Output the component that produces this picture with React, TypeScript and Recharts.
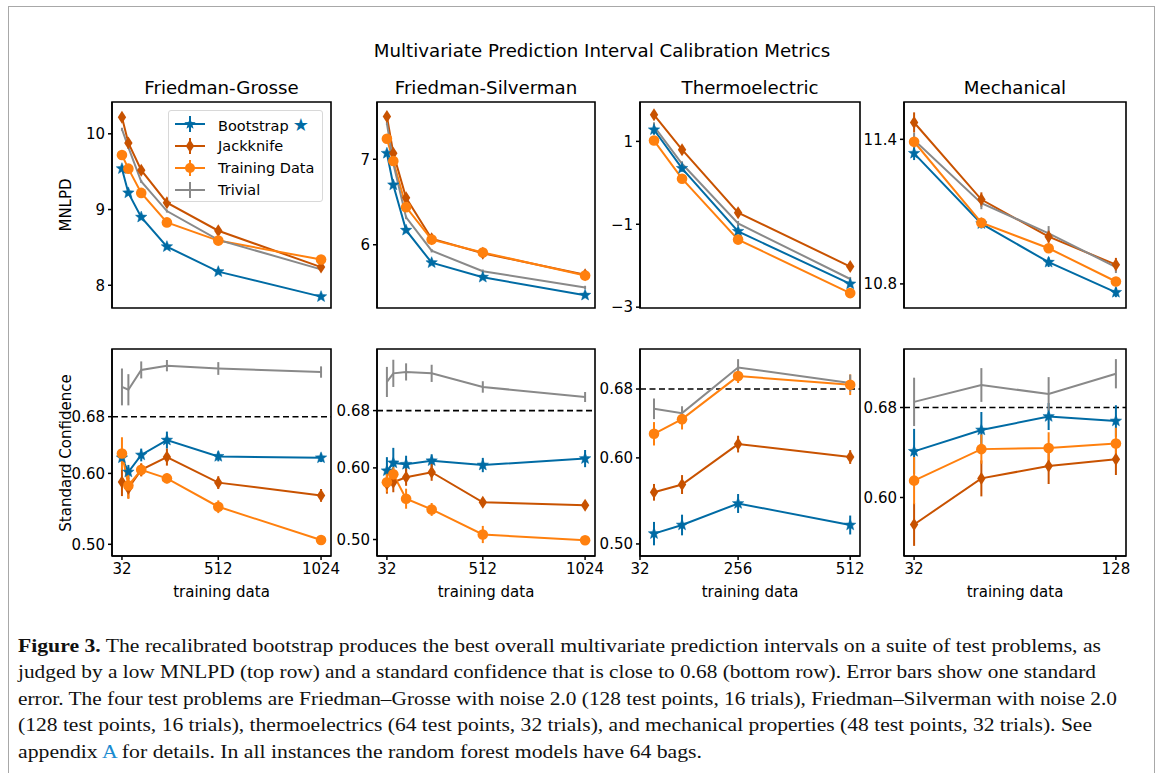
import React from "react";
import {
  LineChart,
  Line,
  XAxis,
  YAxis,
  ErrorBar,
  ReferenceLine,
  ReferenceArea,
} from "recharts";

// colour-blind friendly palette used by the figure
const BLUE = "#006BA4";
const DARK_ORANGE = "#C85200";
const ORANGE = "#FF800E";
const GRAY = "#898989";

const FONT = "DejaVu Sans, sans-serif";

// training data sizes (x axis)
const FRIEDMAN_X = [32, 64, 128, 256, 512, 1024];
const THERMO_X = [64, 128, 256, 512];
const MECH_X = [32, 64, 96, 128];

// each entry is [mean, standard error]
// --- MNLPD (top row) ---
const FG_MNLPD_BOOT = [[9.54, 0.02], [9.22, 0.02], [8.9, 0.02], [8.51, 0.02], [8.18, 0.02], [7.85, 0.02]];
const FG_MNLPD_JACK = [[10.22, 0.03], [9.88, 0.02], [9.52, 0.02], [9.09, 0.02], [8.72, 0.02], [8.24, 0.02]];
const FG_MNLPD_TRAIN = [[9.72, 0.02], [9.54, 0.02], [9.22, 0.02], [8.83, 0.02], [8.59, 0.02], [8.34, 0.02]];
const FG_MNLPD_TRIV = [[10.06, 0.02], [9.82, 0.02], [9.37, 0.02], [8.98, 0.02], [8.6, 0.02], [8.21, 0.02]];

const FS_MNLPD_BOOT = [[7.07, 0.02], [6.7, 0.02], [6.17, 0.02], [5.79, 0.02], [5.62, 0.02], [5.41, 0.02]];
const FS_MNLPD_JACK = [[7.5, 0.03], [7.07, 0.02], [6.55, 0.02], [6.07, 0.02], [5.9, 0.02], [5.65, 0.02]];
const FS_MNLPD_TRAIN = [[7.24, 0.02], [6.98, 0.02], [6.44, 0.02], [6.06, 0.02], [5.91, 0.02], [5.64, 0.02]];
const FS_MNLPD_TRIV = [[7.42, 0.02], [6.95, 0.02], [6.32, 0.02], [5.93, 0.02], [5.69, 0.02], [5.5, 0.02]];

const TE_MNLPD_BOOT = [[1.28, 0.12], [0.35, 0.08], [-1.17, 0.06], [-2.44, 0.06]];
const TE_MNLPD_JACK = [[1.64, 0.1], [0.8, 0.08], [-0.72, 0.07], [-2.02, 0.08]];
const TE_MNLPD_TRAIN = [[1.02, 0.06], [0.1, 0.05], [-1.37, 0.05], [-2.66, 0.05]];
const TE_MNLPD_TRIV = [[1.36, 0.1], [0.46, 0.06], [-0.98, 0.06], [-2.32, 0.05]];

const ME_MNLPD_BOOT = [[11.342, 0.028], [11.05, 0.02], [10.89, 0.02], [10.765, 0.02]];
const ME_MNLPD_JACK = [[11.47, 0.042], [11.15, 0.03], [10.996, 0.025], [10.88, 0.028]];
const ME_MNLPD_TRAIN = [[11.39, 0.025], [11.054, 0.02], [10.948, 0.02], [10.81, 0.018]];
const ME_MNLPD_TRIV = [[11.397, 0.03], [11.135, 0.025], [11.01, 0.03], [10.87, 0.025]];

// --- standard confidence (bottom row) ---
const FG_SC_BOOT = [[0.622, 0.009], [0.602, 0.01], [0.626, 0.009], [0.647, 0.012], [0.624, 0.007], [0.622, 0.006]];
const FG_SC_JACK = [[0.588, 0.02], [0.579, 0.014], [0.605, 0.009], [0.623, 0.012], [0.587, 0.009], [0.569, 0.009]];
const FG_SC_TRAIN = [[0.628, 0.023], [0.583, 0.019], [0.605, 0.009], [0.593, 0.007], [0.553, 0.009], [0.506, 0.006]];
const FG_SC_TRIV = [[0.722, 0.026], [0.718, 0.022], [0.746, 0.012], [0.752, 0.008], [0.748, 0.009], [0.743, 0.008]];

const FS_SC_BOOT = [[0.596, 0.019], [0.607, 0.021], [0.605, 0.012], [0.61, 0.009], [0.604, 0.01], [0.613, 0.012]];
const FS_SC_JACK = [[0.578, 0.014], [0.58, 0.014], [0.587, 0.012], [0.594, 0.012], [0.552, 0.006], [0.548, 0.005]];
const FS_SC_TRAIN = [[0.58, 0.014], [0.591, 0.01], [0.557, 0.014], [0.542, 0.009], [0.507, 0.012], [0.499, 0.005]];
const FS_SC_TRIV = [[0.72, 0.021], [0.732, 0.019], [0.734, 0.012], [0.732, 0.012], [0.713, 0.008], [0.699, 0.007]];

const TE_SC_BOOT = [[0.512, 0.0136], [0.522, 0.012], [0.547, 0.011], [0.522, 0.011]];
const TE_SC_JACK = [[0.56, 0.0097], [0.569, 0.011], [0.616, 0.0097], [0.601, 0.008]];
const TE_SC_TRAIN = [[0.628, 0.0136], [0.645, 0.012], [0.695, 0.008], [0.685, 0.012]];
const TE_SC_TRIV = [[0.657, 0.012], [0.652, 0.008], [0.705, 0.0097], [0.687, 0.0097]];

const ME_SC_BOOT = [[0.641, 0.02], [0.66, 0.016], [0.672, 0.012], [0.668, 0.014]];
const ME_SC_JACK = [[0.576, 0.019], [0.617, 0.016], [0.628, 0.016], [0.634, 0.014]];
const ME_SC_TRAIN = [[0.615, 0.021], [0.643, 0.013], [0.644, 0.014], [0.648, 0.014]];
const ME_SC_TRIV = [[0.685, 0.0215], [0.7, 0.015], [0.692, 0.015], [0.71, 0.013]];

const TARGET_CONFIDENCE = 0.68;

type Series = number[][];

function buildRows(xs: number[], boot: Series, jack: Series, train: Series, triv: Series) {
  return xs.map((x, i) => ({
    x,
    boot: boot[i][0],
    bootErr: boot[i][1],
    jack: jack[i][0],
    jackErr: jack[i][1],
    train: train[i][0],
    trainErr: train[i][1],
    triv: triv[i][0],
    trivErr: triv[i][1],
  }));
}

function starPath(cx: number, cy: number, outer: number, inner: number) {
  let d = "";
  for (let i = 0; i < 10; i++) {
    const r = i % 2 === 0 ? outer : inner;
    const a = -Math.PI / 2 + (i * Math.PI) / 5;
    d += (i === 0 ? "M" : "L") + (cx + r * Math.cos(a)).toFixed(2) + "," + (cy + r * Math.sin(a)).toFixed(2);
  }
  return d + "Z";
}

const StarDot = (props: any) => {
  const { cx, cy, key } = props;
  if (cx == null || cy == null) return <g key={key} />;
  return <path key={key} d={starPath(cx, cy, 6, 2.6)} fill={BLUE} stroke={BLUE} strokeWidth={0.5} />;
};

const DiamondDot = (props: any) => {
  const { cx, cy, key } = props;
  if (cx == null || cy == null) return <g key={key} />;
  const h = 6.5;
  const w = 4.2;
  return (
    <path
      key={key}
      d={`M${cx},${cy - h}L${cx + w},${cy}L${cx},${cy + h}L${cx - w},${cy}Z`}
      fill={DARK_ORANGE}
    />
  );
};

const CircleDot = (props: any) => {
  const { cx, cy, key } = props;
  if (cx == null || cy == null) return <g key={key} />;
  return <circle key={key} cx={cx} cy={cy} r={5.3} fill={ORANGE} />;
};

const tickStyle = { fontFamily: FONT, fontSize: 15, fill: "#000" };

interface PanelProps {
  left: number;
  top: number;
  plotW: number;
  plotH: number;
  xs: number[];
  xDomain: [number, number];
  xTicks: number[];
  showX: boolean;
  yDomain: [number, number];
  yTicks: number[];
  yFmt: (v: number) => string;
  boot: Series;
  jack: Series;
  train: Series;
  triv: Series;
  refLine?: boolean;
}

function Panel(p: PanelProps) {
  const YW = 62;
  const MT = 10;
  const MR = 24;
  const XH = p.showX ? 46 : 0;
  const MB = p.showX ? 0 : 14;
  const data = buildRows(p.xs, p.boot, p.jack, p.train, p.triv);
  return (
    <div style={{ position: "absolute", left: p.left - YW, top: p.top - MT }}>
      <LineChart
        width={YW + p.plotW + MR}
        height={MT + p.plotH + XH + MB}
        data={data}
        margin={{ top: MT, right: MR, left: 0, bottom: MB }}
      >
        <XAxis
          dataKey="x"
          type="number"
          domain={p.xDomain}
          ticks={p.xTicks}
          interval={0}
          allowDataOverflow
          hide={!p.showX}
          height={XH}
          stroke="#000"
          strokeWidth={1.5}
          tickSize={4}
          tickMargin={3}
          tick={tickStyle}
          label={{
            value: "training data",
            position: "insideBottom",
            offset: 5,
            style: { fontFamily: FONT, fontSize: 15, fill: "#000" },
          }}
        />
        <YAxis
          type="number"
          domain={p.yDomain}
          ticks={p.yTicks}
          interval={0}
          allowDataOverflow
          width={YW}
          stroke="#000"
          strokeWidth={1.5}
          tickSize={4}
          tickMargin={3}
          tick={tickStyle}
          tickFormatter={p.yFmt}
        />
        {p.refLine && (
          <ReferenceLine y={TARGET_CONFIDENCE} stroke="#000" strokeWidth={1.6} strokeDasharray="6 3.5" />
        )}
        <Line dataKey="boot" stroke={BLUE} strokeWidth={2} dot={StarDot} activeDot={false} isAnimationActive={false}>
          <ErrorBar dataKey="bootErr" width={0} stroke={BLUE} strokeWidth={2} direction="y" isAnimationActive={false} />
        </Line>
        <Line dataKey="jack" stroke={DARK_ORANGE} strokeWidth={2} dot={DiamondDot} activeDot={false} isAnimationActive={false}>
          <ErrorBar dataKey="jackErr" width={0} stroke={DARK_ORANGE} strokeWidth={2} direction="y" isAnimationActive={false} />
        </Line>
        <Line dataKey="train" stroke={ORANGE} strokeWidth={2} dot={CircleDot} activeDot={false} isAnimationActive={false}>
          <ErrorBar dataKey="trainErr" width={0} stroke={ORANGE} strokeWidth={2} direction="y" isAnimationActive={false} />
        </Line>
        <Line dataKey="triv" stroke={GRAY} strokeWidth={2} dot={false} activeDot={false} isAnimationActive={false}>
          <ErrorBar dataKey="trivErr" width={0} stroke={GRAY} strokeWidth={2} direction="y" isAnimationActive={false} />
        </Line>
        <ReferenceArea
          x1={p.xDomain[0]}
          x2={p.xDomain[1]}
          y1={p.yDomain[0]}
          y2={p.yDomain[1]}
          fill="none"
          stroke="#000"
          strokeWidth={1.6}
          ifOverflow="visible"
        />
      </LineChart>
    </div>
  );
}

const fmtInt = (v: number) => String(v);
const fmtSigned = (v: number) => (v < 0 ? "\u2212" + Math.abs(v) : String(v));
const fmt1 = (v: number) => v.toFixed(1);
const fmt2 = (v: number) => v.toFixed(2);

const FRIEDMAN_DOMAIN: [number, number] = [-17.6, 1073.6];
const THERMO_DOMAIN: [number, number] = [32, 534.4];
const MECH_DOMAIN: [number, number] = [27.2, 132.8];

function LegendSample({ color, marker }: { color: string; marker: string }) {
  const cx = 15;
  const cy = 8;
  return (
    <svg width={32} height={16} style={{ display: "block" }}>
      <line x1={0} y1={cy} x2={30} y2={cy} stroke={color} strokeWidth={2} />
      <line x1={cx} y1={0} x2={cx} y2={16} stroke={color} strokeWidth={2} />
      {marker === "star" && <path d={starPath(cx, cy, 6, 2.6)} fill={color} />}
      {marker === "diamond" && <path d={`M${cx},${cy - 6.5}L${cx + 4.2},${cy}L${cx},${cy + 6.5}L${cx - 4.2},${cy}Z`} fill={color} />}
      {marker === "circle" && <circle cx={cx} cy={cy} r={5} fill={color} />}
    </svg>
  );
}

const LEGEND_ITEMS = [
  { label: "Bootstrap", color: BLUE, marker: "star" },
  { label: "Jackknife", color: DARK_ORANGE, marker: "diamond" },
  { label: "Training Data", color: ORANGE, marker: "circle" },
  { label: "Trivial", color: GRAY, marker: "none" },
];

const CAPTION_LINES = [
  { w: 1083, text: "The recalibrated bootstrap produces the best overall multivariate prediction intervals on a suite of test problems, as" },
  { w: 1078, text: "judged by a low MNLPD (top row) and a standard confidence that is close to 0.68 (bottom row). Error bars show one standard" },
  { w: 1099, text: "error. The four test problems are Friedman\u2013Grosse with noise 2.0 (128 test points, 16 trials), Friedman\u2013Silverman with noise 2.0" },
  { w: 1074, text: "(128 test points, 16 trials), thermoelectrics (64 test points, 32 trials), and mechanical properties (48 test points, 32 trials). See" },
  { w: 684, text: "" },
];

export default function App() {
  const titleStyle: React.CSSProperties = {
    position: "absolute",
    fontFamily: FONT,
    fontSize: 18.2,
    color: "#000",
    transform: "translate(-50%, -50%)",
    whiteSpace: "nowrap",
  };
  const yLabelStyle: React.CSSProperties = {
    position: "absolute",
    fontFamily: FONT,
    fontSize: 15,
    color: "#000",
    transform: "translate(-50%, -50%) rotate(-90deg)",
    whiteSpace: "nowrap",
  };
  const row1Top = 102;
  const row1H = 206;
  const row2Top = 349;
  const row2H = 207;
  const cols = [
    { l: 112, w: 219 },
    { l: 377, w: 218 },
    { l: 640, w: 220 },
    { l: 904, w: 222 },
  ];
  return (
    <div style={{ position: "absolute", left: 0, top: 0, width: 1168, height: 773, background: "#fff", overflow: "hidden" }}>
      <div style={{ position: "absolute", left: 8, top: 6, width: 1145, height: 800, border: "1.5px solid #a8a8a8" }} />

      <div style={{ ...titleStyle, left: 602, top: 50 }}>Multivariate Prediction Interval Calibration Metrics</div>
      <div style={{ ...titleStyle, left: cols[0].l + cols[0].w / 2, top: 87 }}>Friedman-Grosse</div>
      <div style={{ ...titleStyle, left: cols[1].l + cols[1].w / 2, top: 87 }}>Friedman-Silverman</div>
      <div style={{ ...titleStyle, left: cols[2].l + cols[2].w / 2, top: 87 }}>Thermoelectric</div>
      <div style={{ ...titleStyle, left: cols[3].l + cols[3].w / 2, top: 87 }}>Mechanical</div>

      <div style={{ ...yLabelStyle, left: 66, top: 205 }}>MNLPD</div>
      <div style={{ ...yLabelStyle, left: 66, top: 453 }}>Standard Confidence</div>

      {/* top row: MNLPD */}
      <Panel left={cols[0].l} top={row1Top} plotW={cols[0].w} plotH={row1H} xs={FRIEDMAN_X} xDomain={FRIEDMAN_DOMAIN}
        xTicks={[32, 512, 1024]} showX={false} yDomain={[7.7, 10.42]} yTicks={[8, 9, 10]} yFmt={fmtInt}
        boot={FG_MNLPD_BOOT} jack={FG_MNLPD_JACK} train={FG_MNLPD_TRAIN} triv={FG_MNLPD_TRIV} />
      <Panel left={cols[1].l} top={row1Top} plotW={cols[1].w} plotH={row1H} xs={FRIEDMAN_X} xDomain={FRIEDMAN_DOMAIN}
        xTicks={[32, 512, 1024]} showX={false} yDomain={[5.26, 7.67]} yTicks={[6, 7]} yFmt={fmtInt}
        boot={FS_MNLPD_BOOT} jack={FS_MNLPD_JACK} train={FS_MNLPD_TRAIN} triv={FS_MNLPD_TRIV} />
      <Panel left={cols[2].l} top={row1Top} plotW={cols[2].w} plotH={row1H} xs={THERMO_X} xDomain={THERMO_DOMAIN}
        xTicks={[32, 256, 512]} showX={false} yDomain={[-3.02, 1.95]} yTicks={[-3, -1, 1]} yFmt={fmtSigned}
        boot={TE_MNLPD_BOOT} jack={TE_MNLPD_JACK} train={TE_MNLPD_TRAIN} triv={TE_MNLPD_TRIV} />
      <Panel left={cols[3].l} top={row1Top} plotW={cols[3].w} plotH={row1H} xs={MECH_X} xDomain={MECH_DOMAIN}
        xTicks={[32, 128]} showX={false} yDomain={[10.7, 11.555]} yTicks={[10.8, 11.4]} yFmt={fmt1}
        boot={ME_MNLPD_BOOT} jack={ME_MNLPD_JACK} train={ME_MNLPD_TRAIN} triv={ME_MNLPD_TRIV} />

      {/* bottom row: standard confidence */}
      <Panel left={cols[0].l} top={row2Top} plotW={cols[0].w} plotH={row2H} xs={FRIEDMAN_X} xDomain={FRIEDMAN_DOMAIN}
        xTicks={[32, 512, 1024]} showX yDomain={[0.4835, 0.7755]} yTicks={[0.5, 0.6, 0.68]} yFmt={fmt2} refLine
        boot={FG_SC_BOOT} jack={FG_SC_JACK} train={FG_SC_TRAIN} triv={FG_SC_TRIV} />
      <Panel left={cols[1].l} top={row2Top} plotW={cols[1].w} plotH={row2H} xs={FRIEDMAN_X} xDomain={FRIEDMAN_DOMAIN}
        xTicks={[32, 512, 1024]} showX yDomain={[0.477, 0.766]} yTicks={[0.5, 0.6, 0.68]} yFmt={fmt2} refLine
        boot={FS_SC_BOOT} jack={FS_SC_JACK} train={FS_SC_TRAIN} triv={FS_SC_TRIV} />
      <Panel left={cols[2].l} top={row2Top} plotW={cols[2].w} plotH={row2H} xs={THERMO_X} xDomain={THERMO_DOMAIN}
        xTicks={[32, 256, 512]} showX yDomain={[0.486, 0.7265]} yTicks={[0.5, 0.6, 0.68]} yFmt={fmt2} refLine
        boot={TE_SC_BOOT} jack={TE_SC_JACK} train={TE_SC_TRAIN} triv={TE_SC_TRIV} />
      <Panel left={cols[3].l} top={row2Top} plotW={cols[3].w} plotH={row2H} xs={MECH_X} xDomain={MECH_DOMAIN}
        xTicks={[32, 128]} showX yDomain={[0.548, 0.732]} yTicks={[0.6, 0.68]} yFmt={fmt2} refLine
        boot={ME_SC_BOOT} jack={ME_SC_JACK} train={ME_SC_TRAIN} triv={ME_SC_TRIV} />

      {/* legend inside the first panel */}
      <div
        style={{
          position: "absolute",
          left: 168,
          top: 110,
          width: 155,
          height: 92,
          background: "rgba(255,255,255,0.85)",
          border: "1px solid #d8d8d8",
          borderRadius: 3,
          boxSizing: "border-box",
          fontFamily: FONT,
          fontSize: 14.5,
        }}
      >
        {LEGEND_ITEMS.map((it, i) => (
          <div key={it.label} style={{ position: "absolute", left: 6, top: 3 + i * 22, display: "flex", alignItems: "center", height: 20 }}>
            <LegendSample color={it.color} marker={it.marker} />
            <span style={{ marginLeft: 11, whiteSpace: "nowrap" }}>
              {it.label}
              {it.label === "Bootstrap" && <span style={{ color: BLUE, marginLeft: 4, fontSize: 18 }}>{"\u2605"}</span>}
            </span>
          </div>
        ))}
      </div>

      {/* figure caption */}
      <svg width={1168} height={773} style={{ position: "absolute", left: 0, top: 0, pointerEvents: "none" }}>
        <g fontFamily="Liberation Serif, serif" fontSize={18} fill="#111">
          <text x={18} y={652} textLength={CAPTION_LINES[0].w} lengthAdjust="spacingAndGlyphs">
            <tspan fontWeight="bold">Figure 3.</tspan> {CAPTION_LINES[0].text}
          </text>
          {CAPTION_LINES.slice(1, 4).map((ln, i) => (
            <text key={i} x={18} y={678 + i * 26.5} textLength={ln.w} lengthAdjust="spacingAndGlyphs">
              {ln.text}
            </text>
          ))}
          <text x={18} y={757.5} textLength={CAPTION_LINES[4].w} lengthAdjust="spacingAndGlyphs">
            appendix <tspan fill="#1a8bd0">A</tspan> for details. In all instances the random forest models have 64 bags.
          </text>
        </g>
      </svg>
    </div>
  );
}
